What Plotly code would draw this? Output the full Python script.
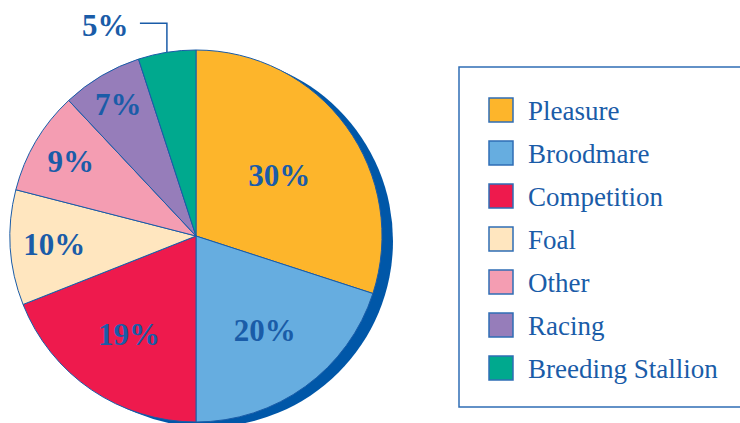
import math
import plotly.graph_objects as go

# Horse use breakdown (percent)
categories = ["Pleasure", "Broodmare", "Competition", "Foal", "Other", "Racing", "Breeding Stallion"]
values = [30, 20, 19, 10, 9, 7, 5]
colors = ["#FDB52B", "#66ADE0", "#EE1A4D", "#FFE6BF", "#F49DB2", "#967DBA", "#00A98E"]

W, H = 740, 423
blue = "#1A5CA8"
dark_blue = "#0057A8"
serif = "Liberation Serif"

# pie geometry in pixels
cx, cy, r = 196, 236, 186


def px(x):
    return x / W


def py(y):
    return (H - y) / H


# labels inside slices, the smallest one gets a callout instead
labels_text = [f"<b>{v}%</b>" for v in values]
labels_text[-1] = ""

fig = go.Figure()
fig.add_trace(go.Pie(
    labels=categories,
    values=values,
    sort=False,
    direction="clockwise",
    rotation=0,
    marker=dict(colors=colors, line=dict(color=blue, width=1)),
    text=labels_text,
    textinfo="text",
    textposition="inside",
    insidetextorientation="horizontal",
    insidetextfont=dict(family=serif, size=31, color=blue),
    showlegend=False,
    hoverinfo="label+percent",
    domain=dict(x=[px(cx - r), px(cx + r)], y=[py(cy + r), py(cy - r)]),
))

shapes = []
# dark blue edge behind the pie
shapes.append(dict(type="circle", xref="paper", yref="paper", layer="below",
                   x0=px(cx - r + 11), x1=px(cx + r + 11),
                   y0=py(cy + r + 5), y1=py(cy - r + 5),
                   fillcolor=dark_blue, line=dict(width=0)))

# callout for the last slice
total = sum(values)
start = sum(values[:-1]) / total * 360
mid = math.radians(start + values[-1] / total * 360 / 2)
ex, ey = cx + r * math.sin(mid), cy - r * math.cos(mid)
ly = ey - 29
lx = ex - 27
shapes.append(dict(type="path", xref="paper", yref="paper",
                   path=f"M {px(ex)},{py(ey)} L {px(ex)},{py(ly)} L {px(lx)},{py(ly)}",
                   line=dict(color=blue, width=1.5)))

annotations = [dict(x=px(lx - 9), y=py(ly + 2), xref="paper", yref="paper",
                    text=f"<b>{values[-1]}%</b>", showarrow=False, xanchor="right", yanchor="middle",
                    font=dict(family=serif, size=31, color=blue))]

# legend box
shapes.append(dict(type="rect", xref="paper", yref="paper",
                   x0=px(459), x1=px(745), y0=py(407), y1=py(67),
                   line=dict(color="#2F6DB5", width=1.5), fillcolor="white", layer="below"))

row0, step = 110, 43
for i, (name, c) in enumerate(zip(categories, colors)):
    yc = row0 + i * step
    shapes.append(dict(type="rect", xref="paper", yref="paper",
                       x0=px(489), x1=px(513), y0=py(yc + 12), y1=py(yc - 12),
                       fillcolor=c, line=dict(color="#2F6DB5", width=1.5)))
    annotations.append(dict(x=px(526), y=py(yc + 1), xref="paper", yref="paper",
                            text=name, showarrow=False, xanchor="left", yanchor="middle",
                            font=dict(family=serif, size=27, color=blue)))

fig.update_layout(
    width=W, height=H,
    margin=dict(l=0, r=0, t=0, b=0),
    paper_bgcolor="white",
    plot_bgcolor="white",
    shapes=shapes,
    annotations=annotations,
    showlegend=False,
)

# drop the page's default body margin so the figure sits at the window corner
fig.write_html("out.html", config={"displayModeBar": False},
               post_script="document.body.style.margin='0';")
